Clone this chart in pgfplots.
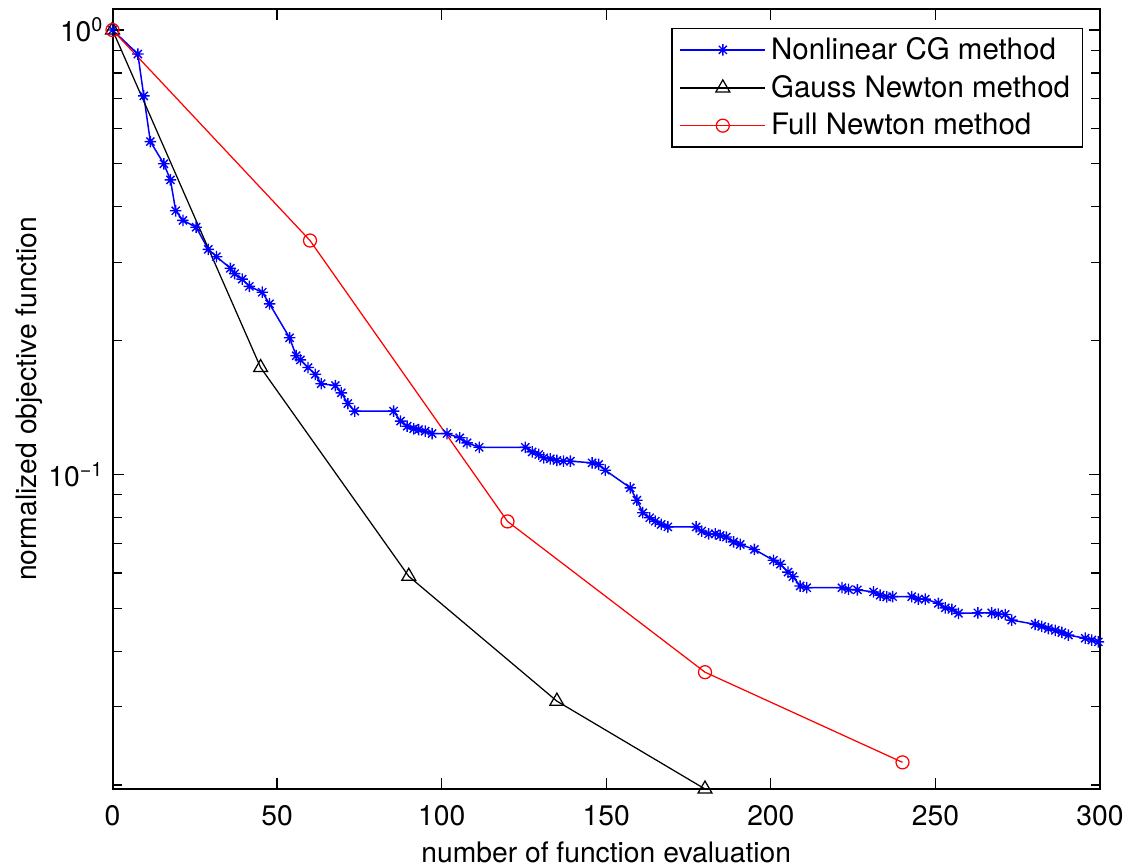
\documentclass[border=0pt]{standalone}
\usepackage{fontspec}
\setmainfont{TeX Gyre Heros}
\usepackage{pgfplots}
\pgfplotsset{compat=1.18}

% MATLAB-style asterisk: plus and cross together
\pgfdeclareplotmark{mstar}{%
  \pgfpathmoveto{\pgfqpoint{-\pgfplotmarksize}{0pt}}%
  \pgfpathlineto{\pgfqpoint{\pgfplotmarksize}{0pt}}%
  \pgfpathmoveto{\pgfqpoint{0pt}{-\pgfplotmarksize}}%
  \pgfpathlineto{\pgfqpoint{0pt}{\pgfplotmarksize}}%
  \pgfpathmoveto{\pgfqpoint{-.7071\pgfplotmarksize}{-.7071\pgfplotmarksize}}%
  \pgfpathlineto{\pgfqpoint{.7071\pgfplotmarksize}{.7071\pgfplotmarksize}}%
  \pgfpathmoveto{\pgfqpoint{-.7071\pgfplotmarksize}{.7071\pgfplotmarksize}}%
  \pgfpathlineto{\pgfqpoint{.7071\pgfplotmarksize}{-.7071\pgfplotmarksize}}%
  \pgfusepathqstroke}

\begin{document}
\begin{tikzpicture}
\begin{semilogyaxis}[
  name=ax,
  scale only axis,
  width=395pt, height=312pt,
  xmin=0, xmax=300,
  ymin=0.0196, ymax=1.115,
  xtick={0,50,...,300},
  ytick={0.1,1},
  yticklabels={10\textsuperscript{−1},10\textsuperscript{0}},
  minor ytick={0.02,0.03,0.04,0.05,0.06,0.07,0.08,0.09,0.2,0.3,0.4,0.5,0.6,0.7,0.8,0.9},
  tick align=inside,
  major tick length=4.4pt,
  minor tick length=3.6pt,
  tick style={black, line width=0.5pt},
  axis line style={line width=0.8pt},
  /pgf/number format/assume math mode=true,
  font=\fontsize{11.3}{13.5}\selectfont,
  ticklabel style={font=\fontsize{11.3}{13.5}\selectfont},
  xticklabel style={yshift=-3pt},
  xlabel={number of function evaluation},
  ylabel={normalized objective function},
  xlabel style={yshift=0.5pt},
  ylabel style={yshift=-4.5pt},
  legend cell align=left,
  legend style={at={(0.983,0.976)}, anchor=north east, draw=black,
    line width=0.5pt, inner xsep=3pt, inner ysep=1pt,
    row sep=0pt,
    nodes={inner ysep=2.45pt},
    font=\fontsize{11.8}{14}\selectfont},
  legend image code/.code={\draw[mark repeat=2,mark phase=2,#1]
    plot coordinates {(0pt,0pt) (17pt,0pt) (34pt,0pt)};},
]
\addplot[blue, line width=0.6pt, mark=mstar, mark size=2.3pt,
  mark options={line width=0.55pt}] coordinates {
(0,1) (7.7,0.883) (9.5,0.711) (11.5,0.561) (15.6,0.50) (17.6,0.46)
(19.2,0.392) (21.4,0.373) (25.4,0.360) (29.1,0.321) (31.6,0.309)
(35.8,0.291) (37.1,0.283) (39.4,0.275) (41.6,0.265) (45.5,0.257)
(47.7,0.242) (53.8,0.203) (55.8,0.185) (57.1,0.181) (59.4,0.174)
(61.6,0.168) (63.4,0.160) (67.7,0.1585) (69.5,0.1526) (71.5,0.1444)
(73.6,0.1388) (85.4,0.1388) (87.5,0.1318) (89.5,0.1284) (91.5,0.1267)
(93.0,0.1262) (95.0,0.1251) (97.1,0.1236) (101.6,0.1236) (105.5,0.1209)
(107.7,0.1178) (111.4,0.1151) (125.4,0.1151) (127.5,0.1124) (129.5,0.1109)
(131.0,0.1090) (133.0,0.1084) (135.0,0.1075) (137.0,0.1071) (139.1,0.1071)
(145.7,0.1062) (147.7,0.1053) (149.7,0.1022) (157.3,0.0933) (159.3,0.0875)
(161.1,0.0820) (163.2,0.0799) (164.9,0.0785) (166.7,0.0772) (168.7,0.0762)
(177.3,0.0762) (179.0,0.0746) (181.1,0.0735) (183.1,0.0735) (184.6,0.0729)
(186.5,0.0723) (188.7,0.0705) (190.7,0.0696) (195.0,0.0678) (200.8,0.0641)
(202.9,0.0628) (205.2,0.0603) (206.7,0.0589) (208.9,0.0561) (210.9,0.0556)
(221.6,0.0556) (223.6,0.0551) (226.3,0.0550) (231.2,0.0544) (233.2,0.0535)
(235.2,0.0530) (237.0,0.0531) (242.8,0.0531) (244.8,0.0524) (246.9,0.0524)
(250.9,0.0513) (253.0,0.0501) (255.0,0.0497) (257.0,0.0487) (262.9,0.0488)
(267.1,0.0488) (269.1,0.0485) (271.2,0.0484) (273.2,0.0470) (280.3,0.0460)
(282.3,0.0455) (284.3,0.0450) (286.4,0.0446) (288.4,0.0441) (290.4,0.0435)
(295.5,0.0428) (297.5,0.0424) (299.5,0.0420)
};
\addlegendentry{Nonlinear CG method}
\addplot[black, line width=0.5pt, mark=triangle, mark size=3.2pt,
  mark options={line width=0.5pt}] coordinates {
(0,1) (45,0.174) (90,0.059) (135,0.0309) (180,0.0196)
};
\addlegendentry{Gauss Newton method}
\addplot[red, line width=0.5pt, mark=o, mark size=2.6pt,
  mark options={line width=0.5pt}] coordinates {
(0,1) (60,0.336) (120,0.0784) (180,0.0359) (240,0.0225)
};
\addlegendentry{Full Newton method}
\end{semilogyaxis}
\pgfresetboundingbox
\path[use as bounding box] ([xshift=-45pt,yshift=-31pt]ax.south west)
  rectangle ([xshift=12pt,yshift=3.6pt]ax.north east);
\end{tikzpicture}
\end{document}
